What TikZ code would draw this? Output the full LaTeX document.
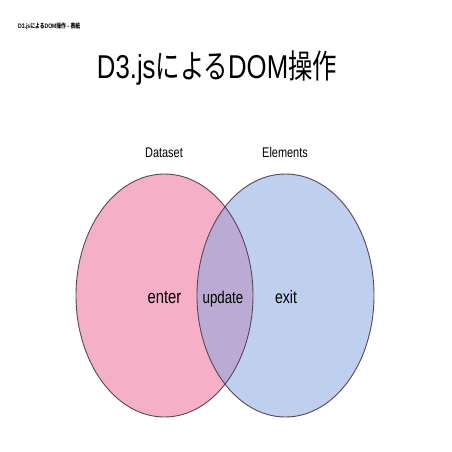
\documentclass[tikz,border=0pt]{standalone}
\usepackage{fontspec}
\setmainfont{Liberation Sans}[FakeStretch=0.78]
\newfontfamily\jp{Noto Sans CJK JP}[FakeStretch=0.74]
\newfontfamily\jpb{Noto Sans CJK JP Bold}[FakeStretch=0.74]
\definecolor{setpink}{RGB}{245,176,200}
\definecolor{setblue}{RGB}{190,208,238}
\definecolor{setboth}{RGB}{186,170,212}
\definecolor{setline}{RGB}{90,70,90}
\tikzset{
  lbl/.style={anchor=base, inner sep=0pt, text=black},
  setedge/.style={draw=setline, line width=0.9pt}
}
\begin{document}
\begin{tikzpicture}[x=1pt,y=-1pt]
\useasboundingbox (0,0) rectangle (452,452);
\fill[white] (0,0) rectangle (452,452);
% sets
\fill[setpink] (164.5,295.5) ellipse [x radius=88.5pt, y radius=121.5pt];
\fill[setblue] (285.5,295.5) ellipse [x radius=88.5pt, y radius=121.5pt];
\begin{scope}
  \clip (164.5,295.5) ellipse [x radius=88.5pt, y radius=121.5pt];
  \fill[setboth] (285.5,295.5) ellipse [x radius=88.5pt, y radius=121.5pt];
\end{scope}
\draw[setedge] (164.5,295.5) ellipse [x radius=88.5pt, y radius=121.5pt];
\draw[setedge] (285.5,295.5) ellipse [x radius=88.5pt, y radius=121.5pt];
% texts
\node[lbl, anchor=base west] (hdr) at (18,29) {\fontsize{6.5}{7}\selectfont\bfseries D3.js{\jpb による}DOM{\jpb 操作} - {\jpb 表紙}};
\node[lbl] (title) at (217,78) {\fontsize{33}{36}\selectfont D3.js{\jp による}DOM{\jp 操作}};
\node[lbl] (dataset) at (164,157) {\fontsize{14}{16}\selectfont Dataset};
\node[lbl] (elements) at (285,157) {\fontsize{14}{16}\selectfont Elements};
\node[lbl] (enter) at (164.5,303) {\fontsize{19}{21}\selectfont enter};
\node[lbl] (update) at (223,303) {\fontsize{17}{19}\selectfont update};
\node[lbl] (exit) at (286,303) {\fontsize{18}{20}\selectfont exit};
\end{tikzpicture}
\end{document}
